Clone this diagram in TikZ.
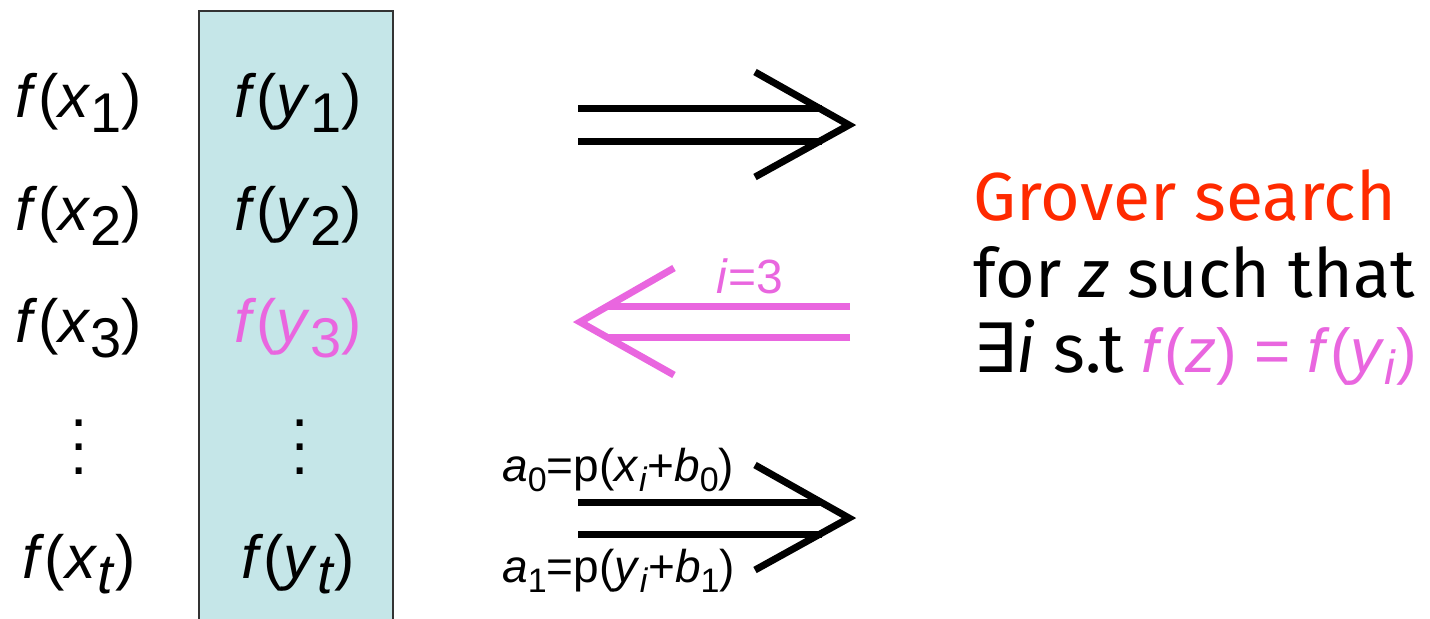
\documentclass[tikz,border=0pt]{standalone}
\usepackage{fontspec}
\setmainfont{Liberation Sans}
\newfontfamily\comic{Fira Sans}
\newfontfamily\djv{DejaVu Sans}
\definecolor{pinkc}{HTML}{E966DF}
\definecolor{redc}{HTML}{FF2A00}
\definecolor{boxc}{HTML}{C5E6E8}
\definecolor{edgec}{HTML}{333333}
\newcommand{\bsub}[1]{\raisebox{-7.5pt}{\fontsize{28}{34}\selectfont #1}}
\newcommand{\lsub}[1]{\raisebox{-5pt}{\fontsize{17}{20}\selectfont #1}}
\newcommand{\fv}[2]{\textit{f}(\textit{#1}\bsub{#2})}
\newcommand{\vdts}{\begin{tabular}{@{}c@{}}\fontsize{31}{10.5}\selectfont .\\ \fontsize{31}{10.5}\selectfont .\\ \fontsize{31}{10.5}\selectfont .\end{tabular}}
\begin{document}
\begin{tikzpicture}[x=0.5pt,y=-0.5pt,
  colitem/.style={anchor=base,inner sep=0pt,font=\fontsize{30.5}{37}\selectfont},
  dts/.style={anchor=south,inner sep=0pt},
  lbl/.style={anchor=base,inner sep=0pt,font=\fontsize{23}{28}\selectfont},
  rtext/.style={anchor=base west,inner sep=0pt,font=\comic\fontsize{34}{41}\selectfont},
  shaft/.style={line width=3.5pt},
  arm/.style={line width=3.5pt,line join=miter}]
\useasboundingbox (0,0) rectangle (1430,618);
% column box
\node[draw=edgec,line width=0.8pt,fill=boxc,anchor=north west,minimum width=97pt,minimum height=320pt,inner sep=0pt] (col) at (198,10) {};
% left column
\node[colitem] (x1) at (79,117) {\fv{x}{1}};
\node[colitem] (x2) at (79,230) {\fv{x}{2}};
\node[colitem] (x3) at (79,342) {\fv{x}{3}};
\node[dts] (xd) at (79,482) {\vdts};
\node[colitem] (xt) at (79,578) {\fv{x}{\textit{t}}};
% right column
\node[colitem] (y1) at (298,117) {\fv{y}{1}};
\node[colitem] (y2) at (298,230) {\fv{y}{2}};
\node[colitem,text=pinkc] (y3) at (298,342) {\fv{y}{3}};
\node[dts] (yd) at (300,482) {\vdts};
\node[colitem] (yt) at (298,578) {\fv{y}{\textit{t}}};
% top arrow
\coordinate (a1s1) at (578,108); \coordinate (a1e1) at (822,108);
\coordinate (a1s2) at (578,141); \coordinate (a1e2) at (822,141);
\coordinate (a1u) at (755,72); \coordinate (a1t) at (849,125); \coordinate (a1d) at (755,177);
\draw[shaft] (a1s1) -- (a1e1);
\draw[shaft] (a1s2) -- (a1e2);
\draw[arm] (a1u) -- (a1t) -- (a1d);
% pink arrow
\coordinate (a2s1) at (850,306); \coordinate (a2e1) at (606,306);
\coordinate (a2s2) at (850,337); \coordinate (a2e2) at (606,337);
\coordinate (a2u) at (674,268); \coordinate (a2t) at (580,322); \coordinate (a2d) at (674,375);
\draw[shaft,pinkc] (a2s1) -- (a2e1);
\draw[shaft,pinkc] (a2s2) -- (a2e2);
\draw[arm,pinkc] (a2u) -- (a2t) -- (a2d);
\node[lbl,text=pinkc,font=\fontsize{24}{29}\selectfont] (ilbl) at (750,293) {\textit{i}=3};
% bottom arrow
\coordinate (a3s1) at (578,502); \coordinate (a3e1) at (822,502);
\coordinate (a3s2) at (578,534); \coordinate (a3e2) at (822,534);
\coordinate (a3u) at (755,465); \coordinate (a3t) at (849,518); \coordinate (a3d) at (755,570);
\draw[shaft] (a3s1) -- (a3e1);
\draw[shaft] (a3s2) -- (a3e2);
\draw[arm] (a3u) -- (a3t) -- (a3d);
\node[lbl,anchor=base west] (l0) at (502,481) {\textit{a}\lsub{0}=p(\textit{x}\lsub{\textit{i}}+\textit{b}\lsub{0})};
\node[lbl,anchor=base west] (l1) at (502,582) {\textit{a}\lsub{1}=p(\textit{y}\lsub{\textit{i}}+\textit{b}\lsub{1})};
% right text
\node[rtext,text=redc] (g1) at (973,220) {Grover search};
\node[rtext] (g2) at (973,297) {for \textit{z} such that};
\node[rtext] (g3) at (973,372) {{\djv ∃}\textit{i} s.t {\color{pinkc}\rmfamily\fontsize{31}{37}\selectfont\textit{f}(\textit{z}) = \textit{f}(\textit{y}\raisebox{-6pt}{\fontsize{24}{29}\selectfont\textit{i}})}};
\end{tikzpicture}
\end{document}
